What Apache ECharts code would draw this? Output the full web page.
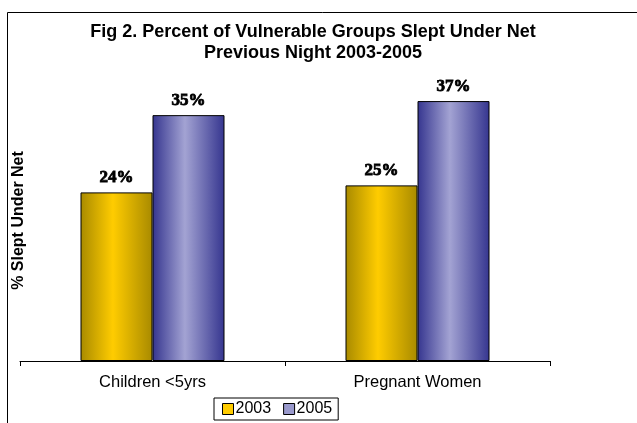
<!DOCTYPE html>
<html>
<head>
<meta charset="utf-8">
<script src="https://cdn.jsdelivr.net/npm/echarts@6/dist/echarts.min.js"></script>
<style>
  html, body { margin: 0; padding: 0; background: #fff; }
  #chart { width: 637px; height: 423px; }
</style>
</head>
<body>
<div id="chart"></div>
<script>
// Share of each group that slept under a net the previous night (%)
const categories = ['Children <5yrs', 'Pregnant Women'];
const years = ['2003', '2005'];
const values2003 = [24, 25];
const values2005 = [35, 37];

const chart = echarts.init(document.getElementById('chart'));

function hGrad(edge, mid) {
  return new echarts.graphic.LinearGradient(0, 0, 1, 0, [
    { offset: 0, color: edge },
    { offset: 0.45, color: mid },
    { offset: 1, color: edge }
  ]);
}

const labelStyle = {
  show: true,
  position: 'top',
  distance: 6,
  formatter: '{c}%',
  fontFamily: 'Liberation Serif',
  fontWeight: 'bold',
  fontSize: 17,
  color: '#000',
  textBorderColor: '#000',
  textBorderWidth: 0.8
};

chart.setOption({
  animation: false,
  backgroundColor: '#fff',
  title: {
    text: 'Fig 2. Percent of Vulnerable Groups Slept Under Net\nPrevious Night 2003-2005',
    left: 308,
    textAlign: 'center',
    top: 17,
    textStyle: {
      fontFamily: 'Liberation Sans',
      fontWeight: 'bold',
      fontSize: 18,
      lineHeight: 21,
      color: '#000'
    }
  },
  graphic: [{
    type: 'rect',
    shape: { x: 7.5, y: 12.5, width: 700, height: 500 },
    style: { fill: 'none', stroke: '#000', lineWidth: 1 },
    silent: true
  }],
  legend: {
    left: 214,
    top: 398,
    padding: [3, 6, 3, 8],
    itemGap: 12,
    itemWidth: 11,
    itemHeight: 11,
    borderColor: '#000',
    borderWidth: 1,
    icon: 'rect',
    textStyle: { fontFamily: 'Liberation Sans', fontSize: 16, color: '#000', padding: [0, 0, 0, -3] },
    data: [
      { name: '2003', itemStyle: { color: '#FFCC00', borderColor: '#000', borderWidth: 1 } },
      { name: '2005', itemStyle: { color: '#9999CC', borderColor: '#000', borderWidth: 1 } }
    ]
  },
  grid: { left: 20, right: 87, top: 80, bottom: 62, containLabel: false, outerBoundsMode: 'none' },
  xAxis: {
    type: 'category',
    data: categories,
    axisLine: { lineStyle: { color: '#000', width: 1 } },
    axisTick: { show: true, length: 5, lineStyle: { color: '#000' } },
    axisLabel: { fontFamily: 'Liberation Sans', fontSize: 16.5, color: '#000', margin: 13 }
  },
  yAxis: {
    type: 'value',
    min: 0,
    max: 40,
    name: '% Slept Under Net',
    nameLocation: 'middle',
    nameRotate: 90,
    nameGap: -7,
    nameTextStyle: { fontFamily: 'Liberation Sans', fontWeight: 'bold', fontSize: 16, color: '#000' },
    axisLine: { show: false },
    axisTick: { show: false },
    axisLabel: { show: false },
    splitLine: { show: false }
  },
  series: [
    {
      name: years[0],
      type: 'bar',
      data: values2003,
      barWidth: 72,
      barGap: '0%',
      itemStyle: { color: hGrad('#A88A00', '#FFCC00'), borderColor: '#000', borderWidth: 1 },
      label: labelStyle
    },
    {
      name: years[1],
      type: 'bar',
      data: values2005,
      barWidth: 72,
      barGap: '0%',
      itemStyle: { color: hGrad('#35358F', '#A3A3D3'), borderColor: '#000', borderWidth: 1 },
      label: labelStyle
    }
  ]
});
</script>
</body>
</html>
